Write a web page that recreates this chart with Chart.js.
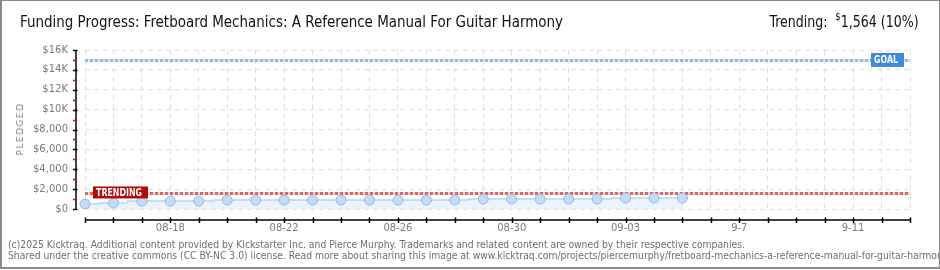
<!DOCTYPE html>
<html>
<head>
<meta charset="utf-8">
<script src="https://cdn.jsdelivr.net/npm/chart.js@4.4.1/dist/chart.umd.min.js"></script>
<style>
  html, body { margin:0; padding:0; background:#fff; }
  body { width:940px; height:270px; position:relative; overflow:hidden; }
  #frame { position:absolute; left:0; top:0; width:937px; height:266px; border-top:1px solid #8a8a8a; border-left:2px solid #8a8a8a; border-right:1px solid #8a8a8a; border-bottom:2px solid #8a8a8a; pointer-events:none; }
  #c { position:absolute; left:0; top:0; }
  .t { position:absolute; white-space:nowrap; color:#111; font-family:"DejaVu Sans Condensed","DejaVu Sans",sans-serif; }
  #title { left:20px; top:13px; font-size:15px; transform-origin:left top; }
  #trend { right:21px; top:13px; font-size:15px; transform-origin:right top; }
  #trend sup { font-size:10px; vertical-align:top; position:relative; top:-2px; margin-left:4px; }
  #ytitle { left:20px; top:129px; font-size:9px; color:#808080; letter-spacing:1.5px; transform:translate(-50%,-50%) rotate(-90deg); font-family:"DejaVu Sans",sans-serif; }
  .foot { left:8px; font-size:10px; color:#6e6e6e; transform-origin:left top; font-family:"DejaVu Sans Condensed","DejaVu Sans",sans-serif; }
  #f1 { top:239px; }
  #f2 { top:250px; }
</style>
</head>
<body>
<canvas id="c" width="940" height="270"></canvas>
<div id="title" class="t">Funding Progress: Fretboard Mechanics: A Reference Manual For Guitar Harmony</div>
<div id="trend" class="t">Trending: <sup>$</sup>1,564 (10%)</div>
<div id="ytitle" class="t">PLEDGED</div>
<div id="f1" class="t foot">(c)2025 Kicktraq. Additional content provided by Kickstarter Inc. and Pierce Murphy. Trademarks and related content are owned by their respective companies.</div>
<div id="f2" class="t foot">Shared under the creative commons (CC BY-NC 3.0) license. Read more about sharing this image at www.kicktraq.com/projects/piercemurphy/fretboard-mechanics-a-reference-manual-for-guitar-harmony/</div>
<div id="frame"></div>
<script>
// ---- data ----
const dates = ["08-15","08-16","08-17","08-18","08-19","08-20","08-21","08-22","08-23","08-24",
               "08-25","08-26","08-27","08-28","08-29","08-30","08-31","09-01","09-02","09-03",
               "09-04","09-05","09-06","09-07","09-08","09-09","09-10","09-11","09-12","09-13"];
const pledged = [500,600,800,800,800,900,900,900,900,900,900,900,900,900,1000,1000,1000,1000,1000,1100,1100,1100];
const xTickLabels = {"08-18":"08-18","08-22":"08-22","08-26":"08-26","08-30":"08-30","09-03":"09-03","09-07":"9-7","09-11":"9-11"};
const goalValue = 15000;
const trendingValue = 1564;
const yMax = 16000;
const yStep = 2000;

// ---- fit text widths ----
function fit(id, target) {
  const el = document.getElementById(id);
  const w = el.getBoundingClientRect().width;
  const s = target / w;
  el.style.transform = 'scaleX(' + s + ')';
  return s;
}
fit('title', 543);
fit('trend', 149);
const fs = fit('f1', 737);
document.getElementById('f2').style.transform = 'scaleX(' + fs + ')';

// ---- plugin: offset axes, goal & trending lines ----
const overlay = {
  id: 'overlay',
  beforeDatasetsDraw(chart) {
    const {ctx, chartArea: a, scales: {x, y}} = chart;
    function dotted(v, light, dark) {
      const py = Math.round(y.getPixelForValue(v)) + 0.5;
      ctx.save();
      ctx.lineWidth = 3;
      ctx.strokeStyle = light;
      ctx.beginPath(); ctx.moveTo(a.left, py); ctx.lineTo(a.right, py); ctx.stroke();
      ctx.setLineDash([3, 2]);
      ctx.strokeStyle = dark;
      ctx.beginPath(); ctx.moveTo(a.left, py); ctx.lineTo(a.right, py); ctx.stroke();
      ctx.restore();
      return py;
    }
    dotted(goalValue, '#dbe8f7', '#92b8e4');
    dotted(trendingValue, '#f3d3d3', '#d26a6a');
  },
  afterDatasetsDraw(chart) {
    const {ctx, chartArea: a, scales: {x, y}} = chart;
    function tag(text, cx, cy, w, h, bg, alignLeft, tw, size) {
      const bx = alignLeft ? cx : cx - w;
      ctx.save();
      ctx.fillStyle = bg;
      ctx.fillRect(bx, cy - h / 2, w, h);
      ctx.fillStyle = '#fff';
      ctx.font = 'bold ' + size + 'px "DejaVu Sans", sans-serif';
      ctx.textBaseline = 'middle';
      ctx.textAlign = 'left';
      const mw = ctx.measureText(text).width;
      ctx.translate(bx + 3, cy + 0.5);
      ctx.scale(tw / mw, 1);
      ctx.fillText(text, 0, 0);
      ctx.restore();
    }
    const gy = y.getPixelForValue(goalValue);
    tag('GOAL', a.right - 6, gy, 33, 14, '#3f8ad8', false, 24, 11);
    const ty = y.getPixelForValue(trendingValue);
    tag('TRENDING', a.left + 8, ty - 1, 55, 12, '#b10b0b', true, 46, 10);
  },
  afterDraw(chart) {
    const {ctx, chartArea: a, scales: {x, y}} = chart;
    ctx.save();
    ctx.strokeStyle = '#000';
    ctx.lineWidth = 1.5;
    const ax = a.left - 9;
    ctx.beginPath(); ctx.moveTo(ax, a.top); ctx.lineTo(ax, a.bottom + 1); ctx.stroke();
    for (let v = 0; v <= yMax; v += 1000) {
      const py = Math.round(y.getPixelForValue(v)) + 0.5;
      ctx.beginPath();
      if (v % yStep === 0) {
        ctx.strokeStyle = '#000';
        ctx.moveTo(ax - 3, py); ctx.lineTo(ax + 1.5, py);
      } else {
        ctx.strokeStyle = '#e00000';
        ctx.moveTo(ax - 3, py); ctx.lineTo(ax - 0.5, py);
      }
      ctx.stroke();
    }
    const ay = a.bottom + 11;
    ctx.strokeStyle = '#000';
    ctx.beginPath(); ctx.moveTo(a.left, ay); ctx.lineTo(a.right, ay); ctx.stroke();
    for (let i = 0; i < dates.length; i++) {
      const px = Math.round(x.getPixelForValue(i)) + 0.5;
      ctx.beginPath(); ctx.moveTo(px, ay - 2.5); ctx.lineTo(px, ay + 3); ctx.stroke();
    }
    ctx.restore();
  }
};

new Chart(document.getElementById('c'), {
  type: 'line',
  data: {
    labels: dates,
    datasets: [{
      data: pledged,
      stepped: 'middle',
      borderColor: '#b9d5f2',
      borderWidth: 1.5,
      backgroundColor: '#ebf3fc',
      fill: 'origin',
      pointRadius: 5,
      pointBackgroundColor: '#c3dbf6',
      pointBorderColor: '#9ab9de',
      pointBorderWidth: 1
    }]
  },
  options: {
    responsive: false,
    animation: false,
    devicePixelRatio: 1,
    plugins: { legend: { display: false }, tooltip: { enabled: false } },
    layout: { padding: { top: 50, right: 30, left: 0, bottom: 0 } },
    scales: {
      x: {
        type: 'category',
        offset: false,
        border: { display: false, dash: [5, 4] },
        grid: { color: '#e0e0e0', lineWidth: 1, drawTicks: false, offset: false },
        ticks: {
          autoSkip: false, maxRotation: 0, minRotation: 0, padding: 13,
          color: '#7a7a7a', font: { family: '"DejaVu Sans", sans-serif', size: 10 },
          callback: function(v, i) { return xTickLabels[dates[i]] || ''; }
        },
        afterFit(s) { s.height = 61; }
      },
      y: {
        min: 0, max: yMax,
        border: { display: false, dash: [5, 4] },
        grid: { color: '#e0e0e0', lineWidth: 1, drawTicks: false },
        ticks: {
          stepSize: yStep, padding: 17,
          color: '#7a7a7a', font: { family: '"DejaVu Sans", sans-serif', size: 10 },
          callback: function(v) { return v >= 10000 ? '$' + (v / 1000) + 'K' : '$' + v.toLocaleString('en-US'); }
        },
        afterFit(s) { s.width = 85; }
      }
    }
  },
  plugins: [overlay]
});
</script>
</body>
</html>
